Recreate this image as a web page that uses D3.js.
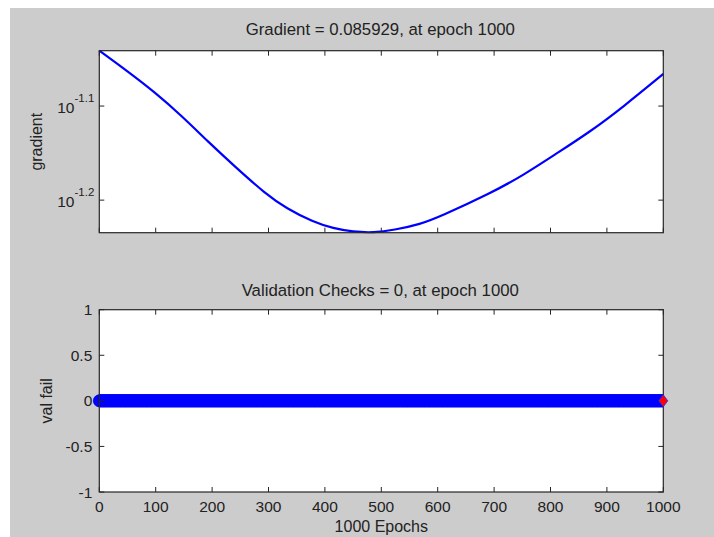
<!DOCTYPE html>
<html>
<head>
<meta charset="utf-8">
<script src="https://cdn.jsdelivr.net/npm/d3@7"></script>
<style>
body { margin: 0; background: #ffffff; }
svg { display: block; }
text { font-family: "Liberation Sans", Arial, sans-serif; fill: #222222; }
</style>
</head>
<body>
<div id="chart"></div>
<script>
// gradient per epoch
var gradEpochs = [0, 51, 99, 146, 193, 241, 294, 332, 379, 415, 450, 487, 522, 570, 604, 693, 752, 811, 870, 929, 1000];
var gradValues = [0.09096, 0.08640, 0.08210, 0.07755, 0.07278, 0.06845, 0.06413, 0.06182, 0.05982, 0.05887,
                  0.05838, 0.05826, 0.05863, 0.05950, 0.06060, 0.06413, 0.06707, 0.07074, 0.07458, 0.07928, 0.085929];

// validation checks: zero at every epoch 0..1000
var valFail = new Array(1001).fill(0);
var valEpochs = valFail.map(function(d, i) { return i; });
var bestEpoch = 1000;
var bestValue = 0;

var xTicks = [0, 100, 200, 300, 400, 500, 600, 700, 800, 900, 1000];
var gradTicks = [-1.2, -1.1];          // exponents of 10
var valTicks = [-1, -0.5, 0, 0.5, 1];

var width = 714, height = 537;
var left = 99.3, right = 663.3;
var top1 = 50.7, bottom1 = 232.7;
var top2 = 309.7, bottom2 = 492;
var tickLen = 5;

var svg = d3.select("#chart").append("svg")
    .attr("width", width)
    .attr("height", height);

svg.append("rect")
    .attr("x", 10).attr("y", 8)
    .attr("width", width - 10).attr("height", height - 8)
    .attr("fill", "#cccccc");

var x = d3.scaleLinear().domain([0, 1000]).range([left, right]);
var yGrad = d3.scaleLog().domain([d3.min(gradValues), d3.max(gradValues)]).range([bottom1, top1]);
var yVal = d3.scaleLinear().domain([-1, 1]).range([bottom2, top2]);

function drawBox(top, bottom) {
    svg.append("rect")
        .attr("x", left).attr("y", top)
        .attr("width", right - left).attr("height", bottom - top)
        .attr("fill", "#ffffff");
}

function drawFrame(top, bottom, yScale, yTickVals) {
    var g = svg.append("g");
    // x ticks inward, top and bottom
    xTicks.forEach(function(t) {
        g.append("line").attr("x1", x(t)).attr("x2", x(t)).attr("y1", bottom).attr("y2", bottom - tickLen)
            .attr("stroke", "#262626");
        g.append("line").attr("x1", x(t)).attr("x2", x(t)).attr("y1", top).attr("y2", top + tickLen)
            .attr("stroke", "#262626");
    });
    yTickVals.forEach(function(v) {
        var yy = yScale(v);
        g.append("line").attr("x1", left).attr("x2", left + tickLen).attr("y1", yy).attr("y2", yy)
            .attr("stroke", "#262626");
        g.append("line").attr("x1", right).attr("x2", right - tickLen).attr("y1", yy).attr("y2", yy)
            .attr("stroke", "#262626");
    });
    g.append("rect")
        .attr("x", left).attr("y", top)
        .attr("width", right - left).attr("height", bottom - top)
        .attr("fill", "none").attr("stroke", "#262626").attr("stroke-width", 1.2);
}

// ---- top: gradient ----
drawBox(top1, bottom1);

var line = d3.line()
    .x(function(d, i) { return x(gradEpochs[i]); })
    .y(function(d) { return yGrad(d); })
    .curve(d3.curveBasis);

svg.append("path")
    .datum(gradValues)
    .attr("d", line)
    .attr("fill", "none")
    .attr("stroke", "#0000ff")
    .attr("stroke-width", 2.2);

drawFrame(top1, bottom1, yGrad, gradTicks.map(function(e) { return Math.pow(10, e); }));

gradTicks.forEach(function(e) {
    var t = svg.append("text")
        .attr("x", left - 5)
        .attr("y", yGrad(Math.pow(10, e)))
        .attr("dy", "0.42em")
        .attr("text-anchor", "end")
        .style("font-size", "15.5px");
    t.append("tspan").text("10");
    t.append("tspan").attr("dy", -11).style("font-size", "11.5px").text(String(e));
});

svg.append("text")
    .attr("x", (left + right) / 2 - 1).attr("y", 34.5)
    .attr("text-anchor", "middle")
    .style("font-size", "16.8px")
    .text("Gradient = " + gradValues[gradValues.length - 1].toFixed(6) + ", at epoch 1000");

svg.append("text")
    .attr("transform", "translate(41.7," + (top1 + bottom1) / 2 + ") rotate(-90)")
    .attr("text-anchor", "middle")
    .style("font-size", "16px")
    .text("gradient");

// ---- bottom: validation checks ----
drawBox(top2, bottom2);

svg.append("clipPath").attr("id", "valclip")
    .append("rect").attr("x", 0).attr("y", top2).attr("width", right).attr("height", bottom2 - top2);

var valG = svg.append("g").attr("clip-path", "url(#valclip)");
valG.append("path")
    .datum(valFail)
    .attr("d", d3.line().x(function(d, i) { return x(valEpochs[i]); }).y(function(d) { return yVal(d); }))
    .attr("fill", "none").attr("stroke", "#0000ff").attr("stroke-width", 2);
valG.selectAll("circle")
    .data(valFail)
    .enter().append("circle")
    .attr("cx", function(d, i) { return x(valEpochs[i]); })
    .attr("cy", function(d) { return yVal(d); })
    .attr("r", 6)
    .attr("fill", "#0000ff")
    .attr("stroke", "#0000ff")
    .attr("stroke-width", 0.6);

drawFrame(top2, bottom2, yVal, valTicks);

// best epoch marker
var bx = x(bestEpoch), by = yVal(bestValue);
svg.append("path")
    .attr("d", "M" + bx + "," + (by - 6) + "L" + (bx + 4.5) + "," + by + "L" + bx + "," + (by + 6) + "L" + (bx - 4.5) + "," + by + "Z")
    .attr("fill", "#ff0000")
    .attr("stroke", "#3030ff")
    .attr("stroke-width", 0.8);

svg.selectAll(".ylab2")
    .data(valTicks)
    .enter().append("text")
    .attr("x", left - 7)
    .attr("y", function(d) { return yVal(d); })
    .attr("dy", "0.36em")
    .attr("text-anchor", "end")
    .style("font-size", "15.5px")
    .text(function(d) { return d3.format("")(d).replace("\u2212", "-"); });

svg.selectAll(".xlab")
    .data(xTicks)
    .enter().append("text")
    .attr("x", function(d) { return x(d); })
    .attr("y", 512)
    .attr("text-anchor", "middle")
    .style("font-size", "15.5px")
    .text(function(d) { return d; });

svg.append("text")
    .attr("x", (left + right) / 2 - 1).attr("y", 296)
    .attr("text-anchor", "middle")
    .style("font-size", "16.8px")
    .text("Validation Checks = 0, at epoch 1000");

svg.append("text")
    .attr("x", (left + right) / 2).attr("y", 532)
    .attr("text-anchor", "middle")
    .style("font-size", "16px")
    .text("1000 Epochs");

svg.append("text")
    .attr("transform", "translate(51.7," + (top2 + bottom2) / 2 + ") rotate(-90)")
    .attr("text-anchor", "middle")
    .style("font-size", "16px")
    .text("val fail");
</script>
</body>
</html>
